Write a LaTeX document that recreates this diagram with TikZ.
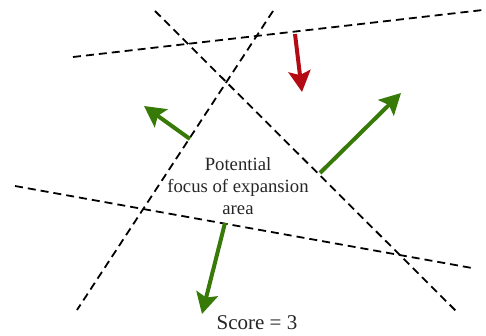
\documentclass[tikz,border=0pt]{standalone}
\usepackage{fontspec}
\setmainfont{Liberation Serif}
\usetikzlibrary{arrows.meta}
\definecolor{arrgreen}{RGB}{56,122,8}
\definecolor{arrred}{RGB}{180,10,20}
\tikzset{
  guide/.style={black, line width=1.8pt, dash pattern=on 8pt off 5pt},
  vec/.style={line width=4pt, -{Stealth[length=21pt,width=22pt,inset=4pt]}},
  label/.style={font=\fontsize{18.7}{22}\selectfont, align=center, text=black!85, inner sep=0pt}
}
\begin{document}
\begin{tikzpicture}[x=1pt,y=-1pt]
\useasboundingbox (0,0) rectangle (486,336);
% guide lines
\coordinate (l1a) at (73,57);  \coordinate (l1b) at (483,10);
\coordinate (l2a) at (155,11); \coordinate (l2b) at (458,313);
\coordinate (l3a) at (273,11); \coordinate (l3b) at (77,310);
\coordinate (l4a) at (15,186); \coordinate (l4b) at (472,268);
\draw[guide] (l1a) -- (l1b);
\draw[guide] (l2a) -- (l2b);
\draw[guide] (l3a) -- (l3b);
\draw[guide] (l4a) -- (l4b);
% arrows
\coordinate (ra) at (295,34);  \coordinate (rb) at (302,92);
\coordinate (ga) at (190,139); \coordinate (gb) at (144,106);
\coordinate (ha) at (320,173); \coordinate (hb) at (401,93);
\coordinate (ka) at (225,223); \coordinate (kb) at (202,314);
\draw[vec, arrred] (ra) -- (rb);
\draw[vec, arrgreen] (ga) -- (gb);
\draw[vec, arrgreen] (ha) -- (hb);
\draw[vec, arrgreen] (ka) -- (kb);
% text
\node[label] (foe) at (238,186) {Potential\\focus of expansion\\area};
\node[label, font=\fontsize{21}{25}\selectfont] (score) at (257,323) {Score = 3};
\end{tikzpicture}
\end{document}
